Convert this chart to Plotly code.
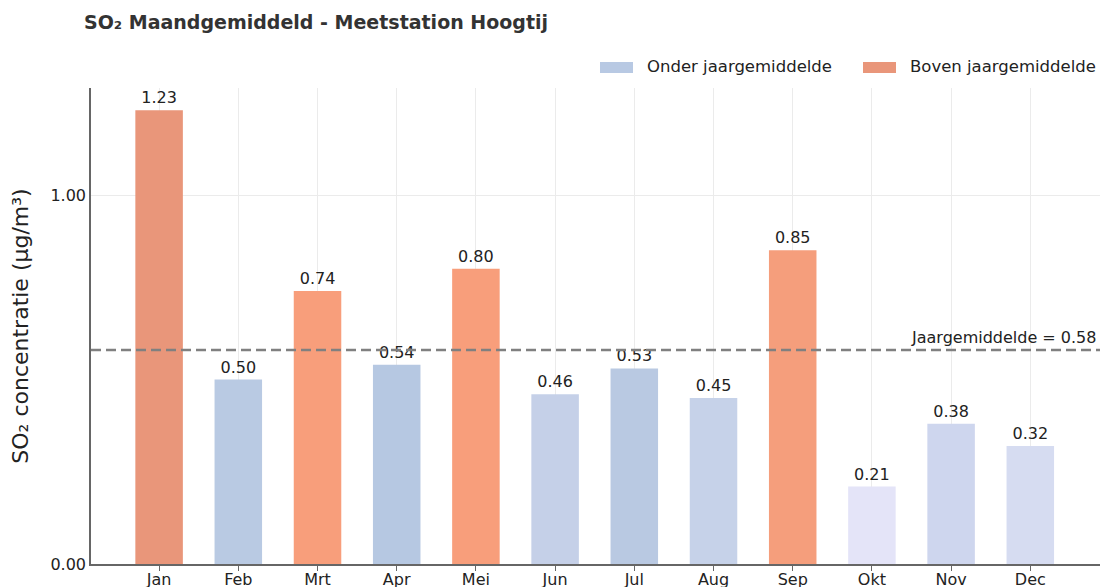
import plotly.graph_objects as go

months = ["Jan", "Feb", "Mrt", "Apr", "Mei", "Jun", "Jul", "Aug", "Sep", "Okt", "Nov", "Dec"]
values = [1.23, 0.50, 0.74, 0.54, 0.80, 0.46, 0.53, 0.45, 0.85, 0.21, 0.38, 0.32]
colors = ["#E9967A", "#B9CAE3", "#F89E7B", "#B6C8E2", "#F89E7B", "#C5D0E8",
          "#B9C9E2", "#C6D2E9", "#F59E7C", "#E4E4F8", "#CED6EE", "#D6DCF1"]
legend_names = ["Onder jaargemiddelde", "Boven jaargemiddelde"]
legend_colors = ["#B8C9E3", "#E9967A"]
mean_val = 0.58

below = [i for i, v in enumerate(values) if v < mean_val]
above = [i for i, v in enumerate(values) if v >= mean_val]

font = "DejaVu Sans"
W, H = 1101, 587
L, R, T, B = 91, 1, 88, 23
PW, PH = W - L - R, H - T - B

def px(xp):
    return (xp - L) / PW

def py(yp):
    return (H - B - yp) / PH

fig = go.Figure()
for name, idx in zip(legend_names, [below, above]):
    fig.add_trace(go.Bar(
        x=[months[i] for i in idx],
        y=[values[i] for i in idx],
        marker=dict(color=[colors[i] for i in idx], line=dict(width=0)),
        width=0.6,
        name=name,
        showlegend=False,
        text=[f"{values[i]:.2f}" for i in idx],
        textposition="outside",
        textfont=dict(size=16, color="#222", family=font),
        cliponaxis=False,
        hoverinfo="skip",
    ))

fig.add_hline(y=mean_val, line=dict(color="#808080", width=2.5, dash="10px,5px"))
fig.add_annotation(x=1, xref="paper", y=mean_val, yref="y", text=f"Jaargemiddelde = {mean_val:.2f}",
                   showarrow=False, xanchor="right", yanchor="bottom", yshift=1, xshift=-2,
                   font=dict(size=16, color="#222", family=font))

# legend drawn manually (wide swatches like the reference)
for name, col, sx, tx in zip(legend_names, legend_colors, [600, 863], [645, 908]):
    fig.add_shape(type="rect", xref="paper", yref="paper", x0=px(sx), x1=px(sx + 33),
                  y0=py(73), y1=py(62), fillcolor=col, line=dict(width=0), layer="above")
    fig.add_annotation(x=px(tx), y=py(67), xref="paper", yref="paper", text=name, showarrow=False,
                       xanchor="left", yanchor="middle", font=dict(size=16.5, color="#222", family=font))

fig.update_layout(
    width=W, height=H,
    margin=dict(l=L, r=R, t=T, b=B),
    plot_bgcolor="white", paper_bgcolor="white",
    barmode="overlay",
    showlegend=False,
    font=dict(family=font, color="#222"),
    title=dict(text="<b>SO₂ Maandgemiddeld - Meetstation Hoogtij</b>", x=84 / W, xanchor="left",
               y=1 - 22 / H, yanchor="middle", font=dict(size=19, color="#333", family=font)),
)
fig.update_xaxes(categoryorder="array", categoryarray=months, range=[-0.86, 11.88],
                 showgrid=True, gridcolor="#ebebeb", gridwidth=1, automargin=False,
                 showline=True, linecolor="#666", linewidth=1.5,
                 ticks="outside", ticklen=5, tickcolor="#666", ticklabelstandoff=-5,
                 tickfont=dict(size=16, family=font, color="#222"))
fig.update_yaxes(range=[0, 1.29], tickvals=[0, 1], ticktext=["0.00", "1.00"],
                 showgrid=True, gridcolor="#ebebeb", gridwidth=1, zeroline=False, automargin=False,
                 showline=True, linecolor="#666", linewidth=1.5, ticks="",
                 tickfont=dict(size=16, family=font, color="#222"),
                 title=dict(text="SO₂ concentratie (µg/m³)", font=dict(size=22, family=font, color="#222"),
                            standoff=16))

fig.write_html("out.html", config={"displayModeBar": False},
               post_script="document.body.style.margin='0';document.body.style.overflow='hidden';")
